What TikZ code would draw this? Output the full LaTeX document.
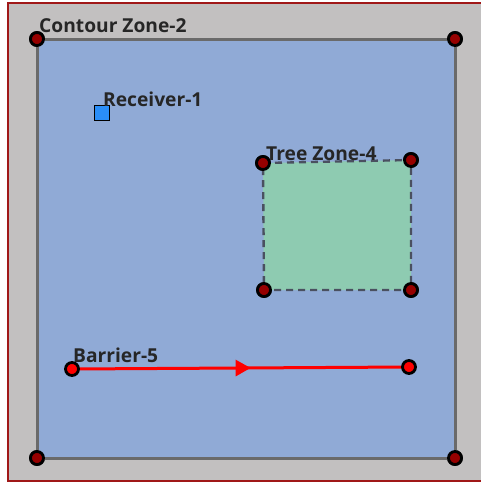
\documentclass[tikz,border=0pt]{standalone}
\usepackage{fontspec}
\setmainfont{Open Sans}
\usetikzlibrary{arrows.meta, decorations.markings}

\definecolor{panelgray}{HTML}{C2C0C0}
\definecolor{framered}{HTML}{A01818}
\definecolor{contourfill}{HTML}{90AAD6}
\definecolor{contourline}{HTML}{6A6A6A}
\definecolor{treefill}{HTML}{8ECBB1}
\definecolor{treeline}{HTML}{4A5060}
\definecolor{receiverblue}{HTML}{2A8EF8}
\definecolor{vertexred}{HTML}{960000}

\begin{document}
\begin{tikzpicture}[
  x=1pt, y=-1pt,
  vertex/.style={circle, draw=black, fill=vertexred, line width=2.8pt, minimum size=13pt, inner sep=0pt},
  endpoint/.style={vertex, fill=red},
  receiver/.style={rectangle, draw=black, fill=receiverblue, line width=1.2pt, minimum size=15pt, inner sep=0pt},
  zonelabel/.style={anchor=base west, inner sep=0pt, font=\fontsize{19.2}{21}\selectfont\bfseries, text=black!85},
  barrier/.style={draw=red, line width=3pt, postaction={decorate},
    decoration={markings, mark=at position 0.53 with {\arrow[red]{Triangle[length=15pt, width=16pt]}}}}
]
  \useasboundingbox (0,0) rectangle (481,483);
  \fill[white] (0,0) rectangle (481,483);
  \draw[framered, fill=panelgray, line width=1.5pt] (8,3) rectangle (484,481);

  % contour zone
  \node[vertex] (c1) at (37,39) {};
  \node[vertex] (c2) at (455,39) {};
  \node[vertex] (c3) at (455,458) {};
  \node[vertex] (c4) at (37,458) {};
  \filldraw[fill=contourfill, draw=contourline, line width=3pt]
    (c1.center) -- (c2.center) -- (c3.center) -- (c4.center) -- cycle;
  \foreach \v in {c1,c2,c3,c4}
    \node[vertex] at (\v) {};
  \node[zonelabel] (contourlabel) at (39,32) {Contour Zone-2};

  % tree zone
  \node[vertex] (t1) at (263,163) {};
  \node[vertex] (t2) at (411,160) {};
  \node[vertex] (t3) at (411,290) {};
  \node[vertex] (t4) at (264,290) {};
  \filldraw[fill=treefill, draw=treeline, line width=2.4pt, dash pattern=on 7pt off 5pt]
    (t1.center) -- (t2.center) -- (t3.center) -- (t4.center) -- cycle;
  \foreach \v in {t1,t2,t3,t4}
    \node[vertex] at (\v) {};
  \node[zonelabel] (treelabel) at (266,160) {Tree Zone-4};

  % receiver
  \node[receiver] (rx) at (102,113) {};
  \node[zonelabel] (rxlabel) at (103,106) {Receiver-1};

  % barrier
  \coordinate (b1) at (72,369);
  \coordinate (b2) at (409,367);
  \draw[barrier] (b1) -- (b2);
  \node[endpoint] (e1) at (b1) {};
  \node[endpoint] (e2) at (b2) {};
  \node[zonelabel] (barrierlabel) at (73,362) {Barrier-5};
\end{tikzpicture}
\end{document}
